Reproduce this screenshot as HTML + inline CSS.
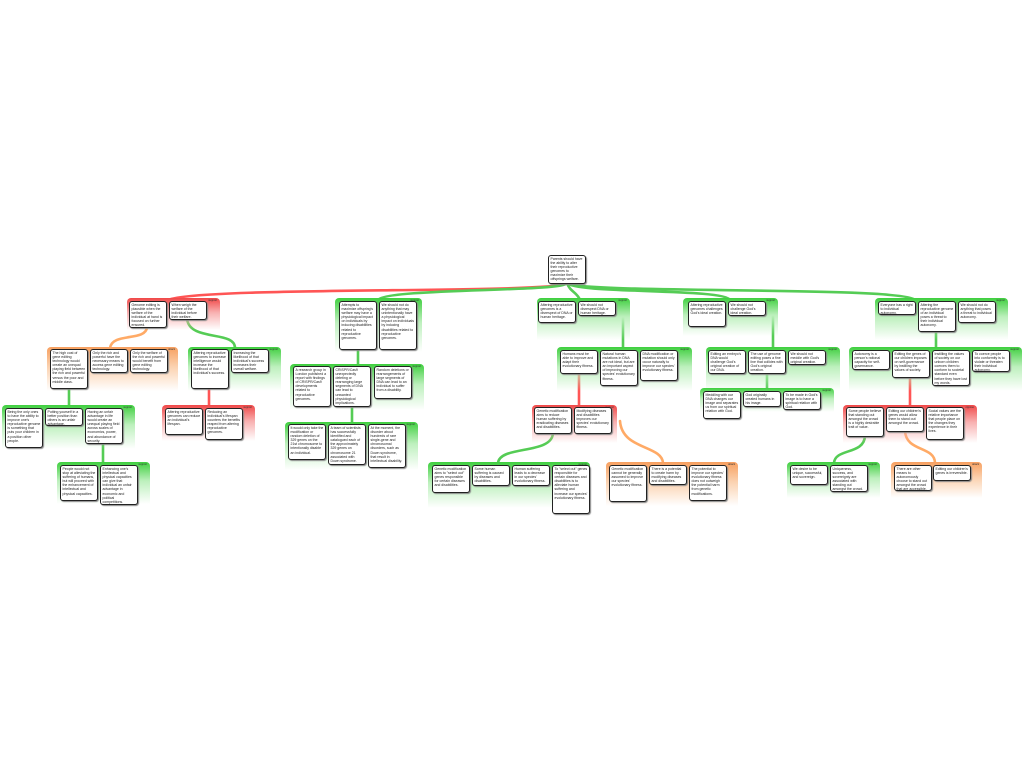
<!DOCTYPE html>
<html><head><meta charset="utf-8">
<style>
html,body{margin:0;padding:0;background:#fff;width:1024px;height:768px;overflow:hidden;position:relative}
.g{position:absolute;border-radius:4px 4px 0 0}
.gr{background:linear-gradient(#3fcf3f 0%,#bdf0bd 45%,rgba(255,255,255,0) 100%)}
.rd{background:linear-gradient(#f04848 0%,#f8b0b0 45%,rgba(255,255,255,0) 100%)}
.or{background:linear-gradient(#f7a060 0%,#fbd2b0 45%,rgba(255,255,255,0) 100%)}
.g i{position:absolute;right:3px;top:1px;font:normal 2.6px "Liberation Sans",sans-serif;color:#333}
.b{position:absolute;background:#fff;border:1.3px solid #222;border-radius:3px;box-shadow:1px 1px 1px #888;font:3.5px/4.1px "Liberation Sans",sans-serif;color:#222;padding:1px 1.5px;box-sizing:border-box;overflow:hidden}
svg{position:absolute;left:0;top:0}
</style></head><body>
<svg width="1024" height="768" fill="none" stroke-width="2.6" stroke-linecap="round">
<path d="M567,283 C560,294 200,286 168,300" stroke="#f55"/>
<path d="M567,283 C565,292 385,288 378,300" stroke="#5c5"/>
<path d="M567,283 C570,292 577,292 580,300" stroke="#5c5"/>
<path d="M567,283 C575,294 725,288 730,300" stroke="#5c5"/>
<path d="M567,283 C580,294 905,286 915,300" stroke="#5c5"/>
<path d="M147,327 C146,342 112,332 110,348" stroke="#fa6"/>
<path d="M187,319 C190,342 235,330 235,348" stroke="#5c5"/>
<path d="M69,389 L69,406" stroke="#5c5"/>
<path d="M209,389 L209,406" stroke="#f55"/>
<path d="M358,349 L358,365" stroke="#5c5"/>
<path d="M352,406 L352,423" stroke="#5c5"/>
<path d="M623,313 L623,348" stroke="#5c5"/>
<path d="M579,373 L579,406" stroke="#f55"/>
<path d="M553,433 C552,455 500,445 498,463" stroke="#5c5"/>
<path d="M620,421 C622,450 662,445 663,463" stroke="#fa6"/>
<path d="M773,313 L773,348" stroke="#5c5"/>
<path d="M767,373 L767,389" stroke="#5c5"/>
<path d="M936,331 L936,348" stroke="#5c5"/>
<path d="M910,377 L910,406" stroke="#f55"/>
<path d="M865,436 C864,455 835,448 834,463" stroke="#5c5"/>
<path d="M905,431 C906,452 935,446 935,463" stroke="#fa6"/>
<path d="M103,443 L103,463" stroke="#5c5"/>
</svg>

<div class="b" style="left:548px;top:255px;width:38px;height:29px">Parents should have the ability to alter their reproductive genomes to maximize their offsprings welfare.</div>

<div class="g rd" style="left:127px;top:298px;width:93px;height:32px"><i>support</i></div>
<div class="b" style="left:129px;top:301px;width:38px;height:27px">Genome editing is plausible when the welfare of the individual at hand is focused on further ensured.</div>
<div class="b" style="left:169px;top:301px;width:38px;height:19px">When weigh the welfare of the individual before their welfare.</div>

<div class="g gr" style="left:335px;top:298px;width:87px;height:54px"><i>support</i></div>
<div class="b" style="left:339px;top:301px;width:38px;height:49px">Attempts to maximize offspring's welfare may have a physiological impact on individuals by inducing disabilities related to reproductive genomes.</div>
<div class="b" style="left:379px;top:301px;width:38px;height:49px">We should not do anything that may unintentionally have a physiological impact on individuals by inducing disabilities related to reproductive genomes.</div>

<div class="g gr" style="left:537px;top:298px;width:93px;height:42px"><i>support</i></div>
<div class="b" style="left:538px;top:301px;width:38px;height:22px">Altering reproductive genomes is a disrespect of DNA or human heritage.</div>
<div class="b" style="left:578px;top:301px;width:38px;height:15px">We should not disrespect DNA or human heritage.</div>

<div class="g gr" style="left:683px;top:298px;width:95px;height:38px"><i>support</i></div>
<div class="b" style="left:688px;top:301px;width:38px;height:26px">Altering reproductive genomes challenges God's ideal creation.</div>
<div class="b" style="left:728px;top:301px;width:38px;height:15px">We should not challenge God's ideal creation.</div>

<div class="g gr" style="left:875px;top:298px;width:133px;height:42px"><i>support</i></div>
<div class="b" style="left:878px;top:301px;width:38px;height:14px">Everyone has a right to individual autonomy.</div>
<div class="b" style="left:918px;top:301px;width:38px;height:31px">Altering the reproductive genome of an individual poses a threat to their individual autonomy.</div>
<div class="b" style="left:958px;top:301px;width:38px;height:22px">We should not do anything that poses a threat to individual autonomy.</div>

<div class="g or" style="left:47px;top:347px;width:131px;height:44px"><i>attack</i></div>
<div class="b" style="left:50px;top:349px;width:38px;height:40px">The high cost of gene editing technology would create an unequal playing field between the rich and powerful versus the poor and middle class.</div>
<div class="b" style="left:90px;top:349px;width:38px;height:24px">Only the rich and powerful have the necessary means to access gene editing technology.</div>
<div class="b" style="left:130px;top:349px;width:38px;height:24px">Only the welfare of the rich and powerful would benefit from gene editing technology.</div>

<div class="g gr" style="left:188px;top:347px;width:93px;height:44px"><i>support</i></div>
<div class="b" style="left:191px;top:349px;width:38px;height:40px">Altering reproductive genomes to increase intelligence would increase the likelihood of that individual's success.</div>
<div class="b" style="left:231px;top:349px;width:38px;height:24px">Increasing the likelihood of that individual's success increases their overall welfare.</div>

<div class="g gr" style="left:290px;top:364px;width:134px;height:46px"><i>support</i></div>
<div class="b" style="left:293px;top:366px;width:38px;height:41px">A research group in London published a report with findings of CRISPR/Cas9 developments related to reproductive genomes.</div>
<div class="b" style="left:333px;top:366px;width:38px;height:41px">CRISPR/Cas9 unexpectedly deleting or rearranging large segments of DNA can lead to unwanted physiological implications.</div>
<div class="b" style="left:374px;top:366px;width:38px;height:33px">Random deletions or rearrangements of large segments of DNA can lead to an individual to suffer from a disability.</div>

<div class="g gr" style="left:557px;top:347px;width:135px;height:44px"><i>support</i></div>
<div class="b" style="left:560px;top:350px;width:38px;height:24px">Humans must be able to improve and adapt their evolutionary fitness.</div>
<div class="b" style="left:600px;top:350px;width:38px;height:36px">Natural human mutations in DNA are not ideal, but are an important aspect of improving our species' evolutionary fitness.</div>
<div class="b" style="left:640px;top:350px;width:38px;height:31px">DNA modification or mutation should only occur naturally to improve our species' evolutionary fitness.</div>

<div class="g gr" style="left:706px;top:347px;width:134px;height:44px"><i>support</i></div>
<div class="b" style="left:708px;top:350px;width:38px;height:24px">Editing an embryo's DNA would challenge God's original creation of our DNA.</div>
<div class="b" style="left:748px;top:350px;width:38px;height:24px">The use of genome editing poses a fine line that collides with God's original creation.</div>
<div class="b" style="left:788px;top:350px;width:38px;height:15px">We should not meddle with God's original creation.</div>

<div class="g gr" style="left:849px;top:347px;width:173px;height:44px"><i>support</i></div>
<div class="b" style="left:852px;top:350px;width:38px;height:20px">Autonomy is a person's rational capacity for self-governance.</div>
<div class="b" style="left:892px;top:350px;width:38px;height:28px">Editing the genes of our children imposes on self-governance by instilling the values of society.</div>
<div class="b" style="left:932px;top:350px;width:38px;height:36px">Instilling the values of society on our unborn children coerces them to conform to societal standard even before they have lost my words.</div>
<div class="b" style="left:972px;top:350px;width:38px;height:22px">To coerce people into conformity is to violate or threaten their individual autonomy.</div>

<div class="g gr" style="left:2px;top:405px;width:133px;height:44px"><i>support</i></div>
<div class="b" style="left:5px;top:408px;width:38px;height:40px">Being the only ones to have the ability to improve one's reproductive genome is something that puts your children in a position other people.</div>
<div class="b" style="left:45px;top:408px;width:38px;height:18px">Putting yourself in a better position than others is an unfair advantage.</div>
<div class="b" style="left:85px;top:408px;width:38px;height:36px">Having an unfair advantage in life would create an unequal playing field across scales of economics, power, and abundance of security.</div>

<div class="g rd" style="left:162px;top:405px;width:93px;height:36px"><i>support</i></div>
<div class="b" style="left:165px;top:408px;width:38px;height:27px">Altering reproductive genomes can reduce an individual's lifespan.</div>
<div class="b" style="left:205px;top:408px;width:38px;height:32px">Reducing an individual's lifespan counters the benefits reaped from altering reproductive genomes.</div>

<div class="g gr" style="left:285px;top:422px;width:133px;height:48px"><i>support</i></div>
<div class="b" style="left:288px;top:424px;width:38px;height:36px">It would only take the modification or random deletion of 329 genes on the 21st chromosome to intentionally disable an individual.</div>
<div class="b" style="left:328px;top:424px;width:38px;height:41px">A team of scientists has successfully identified and catalogued each of the approximately 329 genes on chromosome 21 associated with Down syndrome.</div>
<div class="b" style="left:368px;top:424px;width:38px;height:44px">At the moment, the disorder about hundreds of rare single-gene and chromosomal disorders, such as Down syndrome, that result in intellectual disability.</div>

<div class="g rd" style="left:532px;top:405px;width:85px;height:38px"><i>support</i></div>
<div class="b" style="left:534px;top:407px;width:38px;height:27px">Genetic modification aims to reduce human suffering by eradicating diseases and disabilities.</div>
<div class="b" style="left:574px;top:407px;width:38px;height:27px">Modifying diseases and disabilities improves our species' evolutionary fitness.</div>

<div class="g gr" style="left:700px;top:388px;width:134px;height:24px"><i>support</i></div>
<div class="b" style="left:703px;top:391px;width:38px;height:28px">Meddling with our DNA changes our image and separates us from our spiritual relation with God.</div>
<div class="b" style="left:743px;top:391px;width:38px;height:16px">God originally created humans in his image.</div>
<div class="b" style="left:783px;top:391px;width:38px;height:19px">To be made in God's image is to have a spiritual relation with God.</div>

<div class="g rd" style="left:843px;top:405px;width:134px;height:38px"><i>oppose</i></div>
<div class="b" style="left:846px;top:407px;width:38px;height:30px">Some people believe that standing out amongst the crowd is a highly desirable trait of value.</div>
<div class="b" style="left:886px;top:407px;width:38px;height:25px">Editing our children's genes would allow them to stand out amongst the crowd.</div>
<div class="b" style="left:926px;top:407px;width:38px;height:33px">Social values are the relative importance that people place on the changes they experience in their lives.</div>

<div class="g gr" style="left:57px;top:462px;width:93px;height:42px"><i>support</i></div>
<div class="b" style="left:60px;top:465px;width:38px;height:36px">People would not stop at alleviating the suffering of humans, but will proceed with the enhancement of intellectual and physical capacities.</div>
<div class="b" style="left:100px;top:465px;width:38px;height:40px">Enhancing one's intellectual and physical capacities can give that individual an unfair advantage in economic and political competitions.</div>

<div class="g gr" style="left:428px;top:462px;width:162px;height:46px"><i>support</i></div>
<div class="b" style="left:432px;top:465px;width:38px;height:28px">Genetic modification aims to "select out" genes responsible for certain diseases and disabilities.</div>
<div class="b" style="left:472px;top:465px;width:38px;height:21px">Some human suffering is caused by diseases and disabilities.</div>
<div class="b" style="left:512px;top:465px;width:38px;height:21px">Human suffering leads to a decrease in our species' evolutionary fitness.</div>
<div class="b" style="left:552px;top:465px;width:38px;height:49px">To "select out" genes responsible for certain diseases and disabilities is to alleviate human suffering and increase our species' evolutionary fitness.</div>

<div class="g or" style="left:606px;top:462px;width:132px;height:44px"><i>attack</i></div>
<div class="b" style="left:609px;top:465px;width:38px;height:37px">Genetic modification cannot be generally assumed to improve our species' evolutionary fitness.</div>
<div class="b" style="left:649px;top:465px;width:38px;height:20px">There is a potential to create harm by modifying diseases and disabilities.</div>
<div class="b" style="left:689px;top:465px;width:38px;height:36px">The potential to improve our species' evolutionary fitness does not outweigh the potential harm from genetic modifications.</div>

<div class="g gr" style="left:787px;top:462px;width:93px;height:36px"><i>support</i></div>
<div class="b" style="left:790px;top:465px;width:38px;height:20px">We desire to be unique, successful, and sovereign.</div>
<div class="b" style="left:830px;top:465px;width:38px;height:27px">Uniqueness, success, and sovereignty are associated with standing out amongst the crowd.</div>

<div class="g or" style="left:891px;top:462px;width:91px;height:36px"><i>attack</i></div>
<div class="b" style="left:894px;top:465px;width:38px;height:26px">There are other means to autonomously choose to stand out amongst the crowd that are accessible.</div>
<div class="b" style="left:933px;top:465px;width:38px;height:16px">Editing our children's genes is irreversible.</div>
</body></html>
